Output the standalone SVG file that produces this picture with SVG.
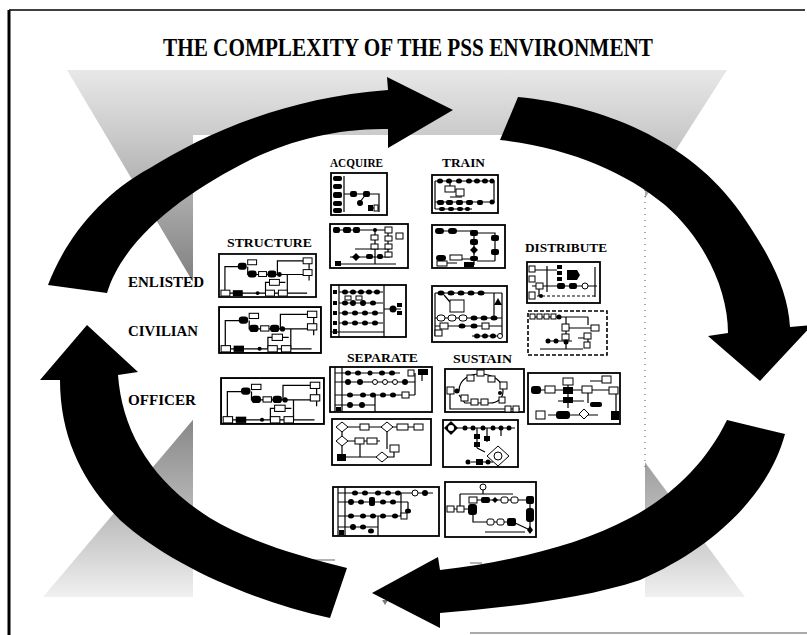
<svg xmlns="http://www.w3.org/2000/svg" xmlns:xlink="http://www.w3.org/1999/xlink" width="807" height="635" viewBox="0 0 807 635">
<style>
.t{font-family:"Liberation Serif","Times New Roman",serif;font-weight:bold;fill:#000}
.bx{fill:#fff;stroke:#000;stroke-width:1.8}
.bd{fill:#fff;stroke:#000;stroke-width:1.6;stroke-dasharray:4 2}
.l{fill:none;stroke:#000;stroke-width:1.2}
.f{fill:#000}
.o{fill:#fff;stroke:#000;stroke-width:1}
.arr{fill:#000}
</style>
<defs>
<linearGradient id="gTop" gradientUnits="userSpaceOnUse" x1="0" y1="70" x2="0" y2="290">
<stop offset="0" stop-color="#e8e8e8"/><stop offset="0.3" stop-color="#cacaca"/><stop offset="1" stop-color="#7c7c7c"/>
</linearGradient>
<linearGradient id="gBot" gradientUnits="userSpaceOnUse" x1="0" y1="420" x2="0" y2="600">
<stop offset="0" stop-color="#888"/><stop offset="0.5" stop-color="#b8b8b8"/><stop offset="1" stop-color="#f2f2f2"/>
</linearGradient>
<symbol id="flowS" viewBox="0 0 100 46" preserveAspectRatio="none">
<rect class="bx" x="1" y="1" width="98" height="44"/>
<path class="l" d="M7,40V14H22M30,14V22H88M60,22V8H92V28M70,22V41M3,41H90M48,41V30H68"/>
<rect class="f" x="20" y="10" width="9" height="7" rx="3"/>
<rect class="o" x="30" y="7" width="9" height="5"/>
<rect class="f" x="30" y="18" width="9" height="7" rx="3"/>
<rect class="o" x="41" y="19" width="8" height="5"/>
<rect class="f" x="50" y="18" width="9" height="7" rx="3"/>
<circle class="f" cx="62" cy="22" r="2.5"/>
<rect class="o" x="86" y="5" width="9" height="6"/>
<rect class="o" x="86" y="17" width="9" height="6"/>
<rect class="o" x="52" y="27" width="10" height="6"/>
<rect class="o" x="3" y="38" width="9" height="6"/>
<rect class="f" x="15" y="38" width="10" height="6"/>
<circle class="f" cx="40" cy="41" r="2"/>
<rect class="o" x="48" y="38" width="9" height="6"/>
<rect class="o" x="61" y="38" width="9" height="6"/>
</symbol>
</defs>

<g id="background">
<rect width="807" height="635" fill="#fff"/>
<polygon points="67,70 727,70 385,605" fill="url(#gTop)"/>
<polygon points="43,597 745,597 417,155" fill="url(#gBot)"/>
<rect x="193" y="135" width="452" height="465" fill="#fff"/>
<line x1="645" y1="190" x2="645" y2="470" stroke="#555" stroke-width="1" stroke-dasharray="1 5"/>
<path d="M300,560H335M470,563H482M500,565H512" stroke="#999" stroke-width="1.5"/>
</g>

<g id="frame">
<line x1="9" y1="10" x2="9" y2="635" stroke="#000" stroke-width="3"/>
<line x1="9" y1="10" x2="805" y2="10" stroke="#000" stroke-width="1.5"/>
<line x1="470" y1="633" x2="807" y2="633" stroke="#aaa" stroke-width="2"/>
</g>

<g id="title">
<text class="t" x="408" y="56" font-size="26" text-anchor="middle" textLength="490" lengthAdjust="spacingAndGlyphs">THE COMPLEXITY OF THE PSS ENVIRONMENT</text>
</g>

<g id="connectors">
<path id="arrow-top" class="arr" d="M48,285 C65,240 100,195 150,168 C200,137 280,98 388,90 L387,77 L453,110 L388,148 L388,129 C340,128 290,140 250,160 C190,190 125,235 107,293 Z"/>
<path id="arrow-right" class="arr" d="M518,97 C600,105 690,140 740,212 C770,255 788,290 790,327 L812,325 L760,381 L708,336 L728,333 C728,290 705,240 665,205 C625,172 570,148 500,140 Z"/>
<path id="arrow-bottom" class="arr" d="M727,420 L785,434 C770,490 720,545 640,580 C580,600 500,608 440,613 L440,628 L372,593 L438,557 L440,570 C510,562 580,545 630,518 C670,497 705,465 727,420 Z"/>
<path id="arrow-left" class="arr" d="M87,325 L138,372 L118,375 C122,430 150,480 210,518 C250,542 300,556 347,568 L330,618 C250,600 170,565 120,520 C85,485 60,440 60,380 L40,380 Z"/>
</g>

<g id="labels">
<text class="t" x="128" y="287" font-size="15" textLength="76" lengthAdjust="spacingAndGlyphs">ENLISTED</text>
<text class="t" x="128" y="336" font-size="15" textLength="70" lengthAdjust="spacingAndGlyphs">CIVILIAN</text>
<text class="t" x="128" y="405" font-size="15" textLength="68" lengthAdjust="spacingAndGlyphs">OFFICER</text>
<text class="t" x="330" y="167" font-size="13" textLength="53" lengthAdjust="spacingAndGlyphs">ACQUIRE</text>
<text class="t" x="442" y="167" font-size="13" textLength="43" lengthAdjust="spacingAndGlyphs">TRAIN</text>
<text class="t" x="227" y="247" font-size="13" textLength="85" lengthAdjust="spacingAndGlyphs">STRUCTURE</text>
<text class="t" x="525" y="252" font-size="13" textLength="82" lengthAdjust="spacingAndGlyphs">DISTRIBUTE</text>
<text class="t" x="347" y="362" font-size="13" textLength="71" lengthAdjust="spacingAndGlyphs">SEPARATE</text>
<text class="t" x="453" y="363" font-size="13" textLength="59" lengthAdjust="spacingAndGlyphs">SUSTAIN</text>
</g>

<g id="box-acquire-1" transform="translate(331,173)">
<rect class="bx" width="56" height="42"/>
<path class="l" d="M13,3V39M13,21H48V39M35,21L29,29M38,35H48"/>
<rect class="f" x="2" y="3" width="9" height="5" rx="2"/>
<rect class="f" x="2" y="11" width="9" height="5" rx="2"/>
<rect class="f" x="2" y="19" width="9" height="6" rx="2"/>
<rect class="f" x="2" y="28" width="9" height="5" rx="2"/>
<rect class="f" x="2" y="35" width="9" height="5" rx="2"/>
<rect class="f" x="19" y="18" width="7" height="6" rx="2"/>
<rect class="f" x="32" y="18" width="7" height="6" rx="2"/>
<circle class="f" cx="29" cy="30" r="3"/>
<rect class="f" x="37" y="32" width="5" height="6"/>
<rect class="o" x="43" y="32" width="4" height="6"/>
</g>

<g id="box-train-1" transform="translate(432,175)">
<rect class="bx" width="66" height="38"/>
<path class="l" d="M3,6H62V28M3,6V34M3,27H62M3,34H40M18,6V12M18,22H30"/>
<ellipse class="f" cx="8" cy="6" rx="3" ry="2.5"/><ellipse class="f" cx="17" cy="6" rx="3" ry="2.5"/><ellipse class="f" cx="27" cy="6" rx="3" ry="2.5"/><ellipse class="f" cx="37" cy="6" rx="3" ry="2.5"/><ellipse class="f" cx="45" cy="6" rx="3" ry="2.5"/><ellipse class="f" cx="53" cy="6" rx="3" ry="2.5"/><ellipse class="f" cx="60" cy="6" rx="2.5" ry="2.5"/>
<rect class="o" x="13" y="11" width="10" height="6"/><rect class="o" x="24" y="14" width="8" height="7"/>
<rect class="f" x="5" y="25" width="7" height="5" rx="2"/><rect class="f" x="14" y="25" width="7" height="5" rx="2"/><rect class="f" x="24" y="25" width="7" height="5" rx="2"/><rect class="f" x="34" y="25" width="7" height="5" rx="2"/><rect class="f" x="45" y="25" width="6" height="5" rx="2"/><circle class="f" cx="60" cy="27" r="2.5"/>
<rect class="f" x="7" y="32" width="6" height="4" rx="2"/><rect class="f" x="16" y="32" width="6" height="4" rx="2"/><rect class="f" x="25" y="32" width="6" height="4" rx="2"/><rect class="f" x="33" y="32" width="5" height="4" rx="2"/>
</g>

<g id="box-acquire-2" transform="translate(330,224)">
<rect class="bx" width="78" height="44"/>
<path class="l" d="M3,6H62M45,6V40M25,25H60M58,6V32M20,33H60M10,40H66M66,12H72"/>
<rect class="f" x="3" y="3" width="7" height="6" rx="2"/>
<rect class="f" x="13" y="3" width="8" height="6" rx="2"/>
<rect class="f" x="23" y="3" width="7" height="6" rx="2"/>
<circle class="f" cx="45" cy="6" r="2"/>
<rect class="o" x="41" y="11" width="7" height="5"/>
<rect class="o" x="41" y="20" width="7" height="5"/>
<rect class="o" x="55" y="3" width="7" height="6"/>
<rect class="o" x="55" y="12" width="7" height="5"/>
<rect class="o" x="55" y="20" width="7" height="5"/>
<rect class="o" x="55" y="28" width="7" height="5"/>
<rect class="o" x="66" y="9" width="7" height="6"/>
<path class="f" d="M22,33l4,-4l4,4l-4,4z"/>
<rect class="f" x="36" y="30" width="7" height="5" rx="2"/>
<rect class="f" x="47" y="30" width="6" height="5" rx="2"/>
<rect class="f" x="5" y="37" width="6" height="5"/>
</g>

<g id="box-train-2" transform="translate(432,225)">
<rect class="bx" width="73" height="43"/>
<path class="l" d="M4,6H42V40M42,8H63V36M20,34H42M5,38H25M63,36H45"/>
<rect class="f" x="3" y="3" width="9" height="6" rx="3"/>
<rect class="f" x="16" y="3" width="9" height="6" rx="3"/>
<rect class="f" x="38" y="5" width="8" height="6" rx="2"/>
<rect class="f" x="38" y="14" width="8" height="6" rx="2"/>
<path class="f" d="M42,21l4,4l-4,4l-4,-4z"/>
<rect class="f" x="38" y="31" width="8" height="5" rx="2"/>
<rect class="f" x="59" y="10" width="8" height="6" rx="2"/>
<rect class="f" x="59" y="24" width="8" height="6" rx="2"/>
<rect class="f" x="4" y="30" width="10" height="6" rx="3"/>
<rect class="o" x="18" y="30" width="12" height="5"/>
<rect class="o" x="5" y="36" width="10" height="5"/>
<rect class="f" x="32" y="37" width="10" height="5"/>
</g>

<g id="box-structure-1">
<use xlink:href="#flowS" href="#flowS" x="218" y="253" width="99" height="45"/>
</g>

<g id="box-distribute-1" transform="translate(527,262)">
<rect class="bx" width="73" height="41"/>
<path class="l" d="M5,8H30M20,4V30M5,24H70M68,5V35M12,24V34"/>
<path d="M5,34H70" stroke="#000" stroke-width="1.2" stroke-dasharray="3 2"/>
<rect class="o" x="2" y="4" width="6" height="6"/>
<rect class="o" x="2" y="14" width="6" height="6"/>
<rect class="f" x="30" y="3" width="5" height="4"/>
<rect class="f" x="30" y="9" width="5" height="4"/>
<rect class="f" x="30" y="15" width="5" height="4"/>
<path class="f" d="M40,8h10l3,5l-3,5h-10z"/>
<rect class="o" x="9" y="21" width="7" height="6"/>
<rect class="f" x="30" y="21" width="8" height="6" rx="2"/>
<rect class="f" x="42" y="21" width="8" height="6" rx="2"/>
<circle class="o" cx="58" cy="24" r="3"/>
<rect class="o" x="2" y="30" width="6" height="7"/>
<circle class="f" cx="14" cy="34" r="2"/>
</g>

<g id="box-civilian">
<use xlink:href="#flowS" href="#flowS" x="218" y="306" width="104" height="48"/>
</g>

<g id="box-acquire-3" transform="translate(331,285)">
<rect class="bx" width="75" height="52"/>
<path class="l" d="M8,0V52M53,0V52M0,47H53M8,7H52M8,18H52M8,28H52M8,38H52M53,24H70"/>
<rect class="f" x="2" y="5" width="4" height="4"/><rect class="f" x="2" y="16" width="4" height="4"/><rect class="f" x="2" y="26" width="4" height="4"/><rect class="f" x="2" y="36" width="4" height="4"/><rect class="f" x="2" y="44" width="4" height="5"/>
<ellipse class="f" cx="14" cy="7" rx="3" ry="2.5"/><ellipse class="f" cx="22" cy="7" rx="3" ry="2.5"/><ellipse class="f" cx="30" cy="7" rx="3" ry="2.5"/><ellipse class="f" cx="38" cy="7" rx="3" ry="2.5"/><ellipse class="f" cx="46" cy="7" rx="3" ry="2.5"/>
<rect class="o" x="14" y="11" width="6" height="4"/><rect class="o" x="25" y="11" width="6" height="4"/>
<ellipse class="f" cx="14" cy="18" rx="3" ry="2.5"/><ellipse class="f" cx="22" cy="18" rx="3" ry="3"/><ellipse class="f" cx="32" cy="18" rx="3" ry="3"/><ellipse class="f" cx="42" cy="18" rx="3" ry="2.5"/>
<ellipse class="f" cx="14" cy="28" rx="3" ry="2.5"/><ellipse class="f" cx="24" cy="28" rx="3" ry="2.5"/><ellipse class="f" cx="34" cy="28" rx="3" ry="2.5"/><ellipse class="f" cx="44" cy="28" rx="3" ry="2.5"/>
<ellipse class="f" cx="14" cy="38" rx="3" ry="2.5"/><ellipse class="f" cx="24" cy="38" rx="3" ry="2.5"/><ellipse class="f" cx="34" cy="38" rx="3" ry="2.5"/><ellipse class="f" cx="44" cy="38" rx="3" ry="2.5"/>
<circle class="f" cx="62" cy="24" r="3.5"/><rect class="f" x="66" y="18" width="5" height="4"/><rect class="f" x="66" y="26" width="5" height="4"/>
</g>

<g id="box-train-3" transform="translate(432,286)">
<rect class="bx" width="75" height="56"/>
<path class="l" d="M3,7H70M70,7V50M3,7V50M3,32H70M3,40H70M40,50H70M62,7V30M12,9L18,16"/>
<ellipse class="f" cx="9" cy="7" rx="3.5" ry="2.5"/><ellipse class="f" cx="19" cy="7" rx="3.5" ry="2.5"/><ellipse class="f" cx="29" cy="7" rx="3.5" ry="2.5"/><ellipse class="f" cx="39" cy="7" rx="3.5" ry="2.5"/><ellipse class="f" cx="49" cy="7" rx="3.5" ry="2.5"/>
<rect class="o" x="18" y="14" width="14" height="12"/>
<path class="f" d="M66,12l4,7h-8z"/>
<rect class="o" x="5" y="29" width="8" height="6" rx="3"/><rect class="o" x="16" y="29" width="8" height="6" rx="3"/><rect class="o" x="27" y="29" width="8" height="6" rx="3"/>
<ellipse class="f" cx="42" cy="32" rx="3.5" ry="2.5"/><ellipse class="f" cx="52" cy="32" rx="3.5" ry="2.5"/><ellipse class="f" cx="62" cy="32" rx="3.5" ry="2.5"/>
<rect class="o" x="8" y="37" width="8" height="6"/><ellipse class="f" cx="30" cy="40" rx="3.5" ry="2.5"/><ellipse class="f" cx="42" cy="40" rx="3.5" ry="2.5"/><rect class="o" x="50" y="37" width="7" height="6"/>
<rect class="o" x="3" y="44" width="7" height="6"/>
<ellipse class="f" cx="45" cy="50" rx="3" ry="2.5"/><ellipse class="f" cx="53" cy="50" rx="3" ry="2.5"/><ellipse class="f" cx="61" cy="50" rx="3" ry="2.5"/><circle class="o" cx="68" cy="50" r="2.5"/>
</g>

<g id="box-distribute-2" transform="translate(528,311)">
<rect class="bd" width="79" height="44"/>
<path class="l" d="M3,6H60M38,6V38M60,6V14M35,17H70M50,27H60V37M12,38H55M20,30H44"/>
<rect class="o" x="2" y="3" width="5" height="5"/><rect class="o" x="9" y="3" width="5" height="5"/><rect class="o" x="16" y="3" width="5" height="5"/><rect class="o" x="23" y="3" width="5" height="5"/>
<circle class="f" cx="31" cy="6" r="2.5"/>
<rect class="o" x="34" y="13" width="7" height="7"/>
<rect class="o" x="34" y="23" width="7" height="6"/>
<rect class="o" x="63" y="14" width="8" height="6"/>
<rect class="o" x="56" y="22" width="7" height="6"/>
<circle class="f" cx="20" cy="30" r="2.5"/><circle class="f" cx="28" cy="30" r="2.5"/><circle class="f" cx="38" cy="31" r="2.5"/>
<rect class="o" x="56" y="31" width="6" height="6"/>
</g>

<g id="box-officer">
<use xlink:href="#flowS" href="#flowS" x="220" y="377" width="105" height="48"/>
</g>

<g id="box-separate-1" transform="translate(330,367)">
<rect class="bx" width="102" height="45"/>
<path class="l" d="M5,0V45M12,0V45M5,6H70M5,15H85M5,28H85M5,38H45M85,6V28M45,28V45M92,4V14"/>
<ellipse class="f" cx="18" cy="6" rx="3" ry="2.5"/><ellipse class="f" cx="28" cy="6" rx="3" ry="2.5"/><ellipse class="f" cx="40" cy="6" rx="2.5" ry="2.5"/><ellipse class="f" cx="52" cy="6" rx="3" ry="2.5"/><ellipse class="f" cx="62" cy="6" rx="3" ry="2.5"/>
<rect class="o" x="78" y="3" width="6" height="6"/><rect class="f" x="88" y="2" width="10" height="6"/>
<ellipse class="f" cx="18" cy="15" rx="3" ry="3"/><ellipse class="f" cx="30" cy="15" rx="3" ry="3"/><circle class="o" cx="45" cy="15" r="2.5"/><circle class="o" cx="55" cy="15" r="2.5"/><circle class="o" cx="65" cy="15" r="2.5"/><ellipse class="f" cx="75" cy="15" rx="3" ry="3"/>
<ellipse class="f" cx="20" cy="28" rx="3" ry="2.5"/><ellipse class="f" cx="33" cy="28" rx="3" ry="2.5"/><ellipse class="f" cx="43" cy="28" rx="3" ry="2.5"/><ellipse class="f" cx="53" cy="28" rx="3" ry="2.5"/><ellipse class="f" cx="63" cy="28" rx="3" ry="2.5"/><rect class="o" x="72" y="25" width="7" height="6"/>
<ellipse class="f" cx="20" cy="38" rx="3" ry="3"/><ellipse class="f" cx="32" cy="38" rx="3" ry="3"/>
<rect class="f" x="6" y="40" width="5" height="4"/>
</g>

<g id="box-sustain-1" transform="translate(445,369)">
<rect class="bx" width="79" height="43"/>
<path class="l" d="M5,22V40H75M5,22H14M14,22C14,10 25,5 35,5C48,5 58,12 58,22C58,30 52,34 45,34H20L14,26"/>
<rect class="o" x="32" y="1" width="7" height="6"/><rect class="o" x="22" y="6" width="7" height="6"/><rect class="o" x="43" y="7" width="7" height="6"/><rect class="o" x="55" y="13" width="7" height="7"/><rect class="o" x="54" y="28" width="6" height="6"/><rect class="o" x="36" y="30" width="7" height="6"/><rect class="o" x="26" y="30" width="7" height="6"/><rect class="o" x="16" y="26" width="7" height="6"/>
<rect class="o" x="2" y="18" width="7" height="7"/><circle class="f" cx="12" cy="22" r="2.5"/><circle class="f" cx="55" cy="24" r="2"/>
<rect class="o" x="60" y="37" width="6" height="6"/><rect class="o" x="68" y="37" width="6" height="6"/>
</g>

<g id="box-distribute-3" transform="translate(528,373)">
<rect class="bx" width="92" height="51"/>
<path class="l" d="M4,17H88M40,5V35M88,17V46M20,42H70M60,17V30M30,28H56M62,8H76"/>
<rect class="f" x="3" y="13" width="10" height="8" rx="3"/>
<rect class="o" x="17" y="13" width="10" height="7"/>
<rect class="o" x="35" y="5" width="10" height="7"/>
<rect class="f" x="35" y="14" width="10" height="7"/>
<rect class="f" x="35" y="24" width="10" height="6"/>
<rect class="o" x="54" y="13" width="10" height="7"/>
<rect class="o" x="74" y="3" width="9" height="7"/>
<rect class="o" x="81" y="14" width="9" height="7"/>
<rect class="o" x="8" y="38" width="9" height="8"/>
<rect class="f" x="28" y="38" width="14" height="8" rx="3"/>
<path class="o" d="M56,36l5,5l-5,5l-5,-5z"/>
<rect class="f" x="62" y="29" width="12" height="5" rx="2"/>
<rect class="f" x="83" y="38" width="8" height="9"/>
</g>

<g id="box-separate-2" transform="translate(332,419)">
<rect class="bx" width="99" height="46"/>
<path class="l" d="M10,8H90M10,8V38M10,22H48M28,22V38M55,8V30M10,38H62V32"/>
<path class="o" d="M10,3l6,5l-6,5l-6,-5z"/><path class="o" d="M55,3l6,5l-6,5l-6,-5z"/><path class="o" d="M10,17l6,5l-6,5l-6,-5z"/><path class="o" d="M50,33l6,5l-6,5l-6,-5z"/>
<rect class="o" x="28" y="5" width="9" height="6"/><rect class="o" x="65" y="5" width="11" height="6"/><rect class="o" x="82" y="5" width="9" height="6"/>
<rect class="o" x="23" y="19" width="9" height="6"/><rect class="o" x="35" y="19" width="10" height="6"/><rect class="o" x="58" y="26" width="9" height="7"/>
<rect class="f" x="5" y="35" width="9" height="7"/>
</g>

<g id="box-sustain-2" transform="translate(443,420)">
<rect class="bx" width="75" height="47"/>
<path class="l" d="M4,8H72M34,8V28M44,8V22M58,8V16M34,28L42,32M50,37H65M28,42H50"/>
<path class="f" d="M8,1l7,7l-7,7l-7,-7z"/><circle cx="8" cy="8" r="3" fill="#fff"/>
<circle class="f" cx="22" cy="8" r="2.5"/><circle class="f" cx="30" cy="8" r="2.5"/><circle class="f" cx="40" cy="8" r="2.5"/><circle class="f" cx="50" cy="8" r="2.5"/><circle class="f" cx="58" cy="8" r="2.5"/><circle class="f" cx="66" cy="8" r="2.5"/>
<rect class="f" x="31" y="14" width="6" height="5"/><rect class="f" x="31" y="22" width="6" height="5"/><rect class="f" x="41" y="16" width="6" height="5"/>
<path class="o" d="M55,26l11,10l-11,10l-11,-10z"/><circle class="o" cx="55" cy="36" r="4"/>
<circle class="f" cx="25" cy="42" r="2.5"/><rect class="f" x="33" y="39" width="7" height="6"/><circle class="f" cx="45" cy="42" r="2.5"/>
</g>

<g id="box-bottom-1" transform="translate(333,487)">
<rect class="bx" width="106" height="49"/>
<path class="l" d="M5,0V49M12,0V49M5,6H100M5,15H75M5,29H70M5,40H45M68,6V29M45,29V49M75,15V24"/>
<ellipse class="f" cx="22" cy="6" rx="3" ry="2.5"/><ellipse class="f" cx="32" cy="6" rx="3" ry="2.5"/><ellipse class="f" cx="45" cy="6" rx="3" ry="2.5"/><ellipse class="f" cx="55" cy="6" rx="3" ry="2.5"/><ellipse class="f" cx="65" cy="6" rx="3" ry="2.5"/><circle class="o" cx="82" cy="6" r="3"/><circle class="f" cx="92" cy="6" r="3"/>
<ellipse class="f" cx="18" cy="15" rx="3" ry="3"/><ellipse class="f" cx="28" cy="15" rx="3" ry="2.5"/><rect class="f" x="36" y="10" width="6" height="9" rx="2"/><ellipse class="f" cx="50" cy="15" rx="3" ry="2.5"/><ellipse class="f" cx="60" cy="15" rx="3" ry="2.5"/><ellipse class="f" cx="75" cy="24" rx="3" ry="2.5"/>
<ellipse class="f" cx="18" cy="29" rx="3" ry="2.5"/><ellipse class="f" cx="30" cy="29" rx="3" ry="2.5"/><ellipse class="f" cx="40" cy="29" rx="3" ry="2.5"/><ellipse class="f" cx="50" cy="29" rx="3" ry="2.5"/><ellipse class="f" cx="62" cy="29" rx="3" ry="2.5"/><rect class="o" x="68" y="26" width="6" height="6"/>
<ellipse class="f" cx="20" cy="40" rx="3" ry="3"/><ellipse class="f" cx="30" cy="40" rx="3" ry="2.5"/><ellipse class="f" cx="38" cy="44" rx="3" ry="2.5"/>
<rect class="f" x="6" y="43" width="5" height="5"/>
</g>

<g id="box-bottom-2" transform="translate(445,482)">
<rect class="bx" width="91" height="55"/>
<path class="l" d="M38,4V12M15,12H68M15,12V27M5,27H30M28,27V40H45M45,40H68M85,18V48M28,18H85M68,40L85,48M40,50H80"/>
<circle class="o" cx="38" cy="5" r="3"/>
<rect class="o" x="24" y="15" width="8" height="6"/>
<rect class="f" x="36" y="15" width="9" height="6" rx="2"/>
<path class="f" d="M50,15l3,3l-3,3l-3,-3z"/>
<rect class="o" x="56" y="15" width="7" height="6" rx="2"/>
<rect class="o" x="66" y="15" width="7" height="6" rx="2"/>
<rect class="f" x="81" y="14" width="8" height="8" rx="2"/>
<rect class="o" x="2" y="24" width="7" height="6"/>
<rect class="o" x="12" y="24" width="7" height="6"/>
<rect class="f" x="23" y="22" width="9" height="11" rx="3"/>
<rect class="o" x="42" y="37" width="7" height="6" rx="2"/>
<rect class="o" x="52" y="37" width="7" height="6" rx="2"/>
<rect class="f" x="62" y="36" width="9" height="8" rx="2"/>
<rect class="f" x="81" y="26" width="8" height="14" rx="3"/>
<path class="f" d="M85,44l3,4l-3,4l-3,-4z"/>
</g>
</svg>
